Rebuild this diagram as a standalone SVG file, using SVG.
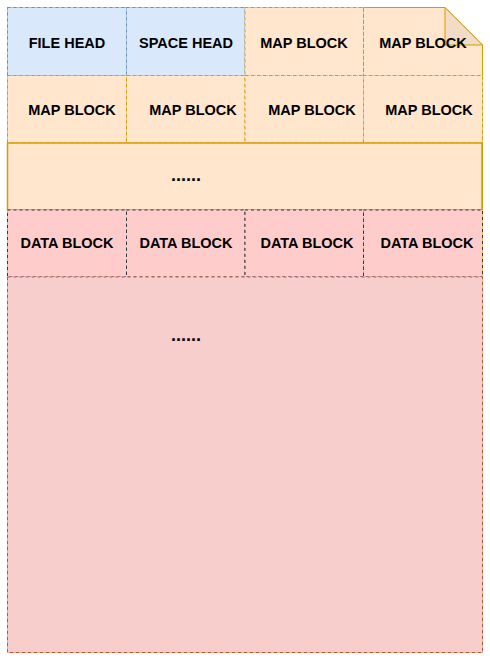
<svg xmlns="http://www.w3.org/2000/svg" width="490" height="661" viewBox="0 0 490 661">
<style>
.t{font-family:"Liberation Sans",Arial,sans-serif;font-weight:bold;font-size:14.5px;fill:#000;text-anchor:middle}
.dots{font-family:"Liberation Sans",Arial,sans-serif;font-weight:bold;font-size:18px;fill:#000;text-anchor:middle}
.blue{fill:#dae8fc;stroke:#6c8ebf;stroke-dasharray:3 3}
.map{fill:#ffe6cc;stroke:#d79b00;stroke-dasharray:3 3}
.mapn{fill:none;stroke:#d79b00;stroke-dasharray:3 3}
.data{fill:#ffcccc;stroke:#36393d;stroke-dasharray:3 3}
</style>
<rect width="490" height="661" fill="#fff"/>
<g id="note">
<path d="M7.5 7.5 H445 L482.5 45 V652.5 H7.5 Z" fill="#ffe6cc" stroke="#d79b00"/>
</g>
<g id="row1">
<g id="file-head"><rect class="blue" x="7.5" y="7.5" width="119" height="68"/><text class="t" x="67" y="47.5">FILE HEAD</text></g>
<g id="space-head"><rect class="blue" x="126.5" y="7.5" width="118.5" height="68"/><text class="t" x="186" y="47.5">SPACE HEAD</text></g>
<g id="map1"><rect class="map" x="245" y="7.5" width="118.5" height="68"/></g>
<g id="map2"><path class="mapn" d="M363.5 7.5 V75.5 H482.5"/></g>
<path id="fold" d="M445 7.5 V45 H482.5 Z" fill="#f2dcc6" stroke="#d79b00"/>
<text class="t" x="304" y="47.5">MAP BLOCK</text>
<text class="t" x="423" y="47.5">MAP BLOCK</text>
</g>
<g id="row2">
<g id="map3"><rect class="map" x="7.5" y="75.5" width="119" height="67.5"/><text class="t" x="72" y="114.5">MAP BLOCK</text></g>
<g id="map4"><rect class="map" x="126.5" y="75.5" width="118.5" height="67.5"/><text class="t" x="193" y="114.5">MAP BLOCK</text></g>
<g id="map5"><rect class="map" x="245" y="75.5" width="118.5" height="67.5"/><text class="t" x="312" y="114.5">MAP BLOCK</text></g>
<g id="map6"><rect class="map" x="363.5" y="75.5" width="119" height="67.5"/><text class="t" x="429" y="114.5">MAP BLOCK</text></g>
</g>
<g id="map-more">
<rect x="7.5" y="143" width="474.5" height="67" fill="#ffe6cc" stroke="#d79b00" stroke-width="1.5"/>
<text class="dots" x="186" y="180.5">......</text>
</g>
<g id="row4">
<g id="data1"><rect class="data" x="7.5" y="210" width="119" height="67"/><text class="t" x="67" y="248">DATA BLOCK</text></g>
<g id="data2"><rect class="data" x="126.5" y="210" width="118.5" height="67"/><text class="t" x="186" y="248">DATA BLOCK</text></g>
<g id="data3"><rect class="data" x="245" y="210" width="118.5" height="67"/><text class="t" x="307" y="248">DATA BLOCK</text></g>
<g id="data4"><rect class="data" x="363.5" y="210" width="119" height="67"/><text class="t" x="427" y="248">DATA BLOCK</text></g>
</g>
<g id="data-more">
<rect x="7.5" y="277" width="475" height="375.5" fill="#f8cecc" stroke="#b85450" stroke-dasharray="3 3"/>
<text class="dots" x="186" y="340.5">......</text>
</g>
<g id="connectors"/>
</svg>
